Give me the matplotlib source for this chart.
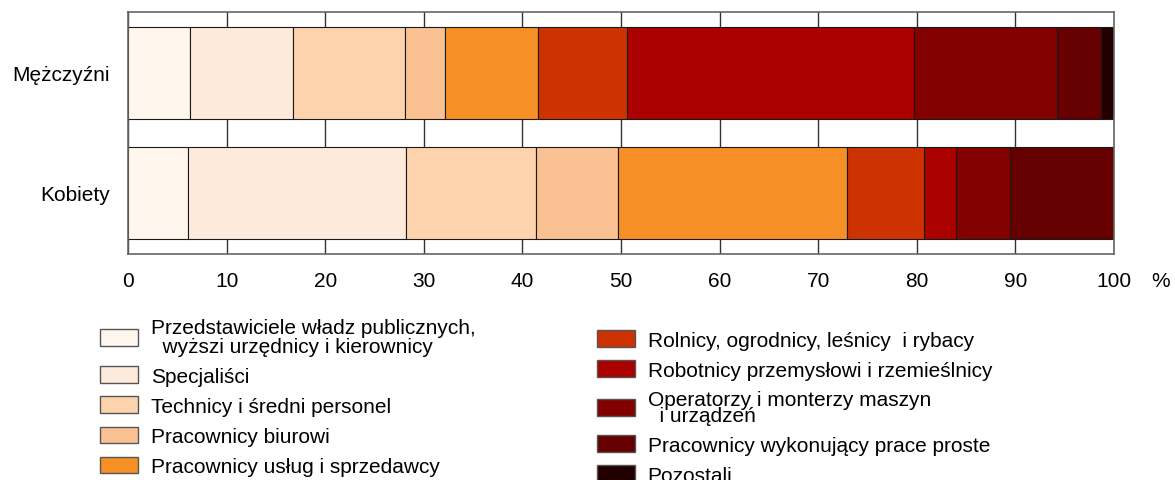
import numpy as np
import matplotlib.pyplot as plt

plt.rcParams['font.family'] = ['Liberation Sans', 'DejaVu Sans']

groups = ['Kobiety', 'Mężczyźni']
categories = [
    'Przedstawiciele władz publicznych,\n  wyższi urzędnicy i kierownicy',
    'Specjaliści',
    'Technicy i średni personel',
    'Pracownicy biurowi',
    'Pracownicy usług i sprzedawcy',
    'Rolnicy, ogrodnicy, leśnicy  i rybacy',
    'Robotnicy przemysłowi i rzemieślnicy',
    'Operatorzy i monterzy maszyn\n  i urządzeń',
    'Pracownicy wykonujący prace proste',
    'Pozostali',
]
# shares in %, order: Kobiety, Mężczyźni
kobiety = [6.1, 22.1, 13.2, 8.3, 23.25, 7.75, 3.3, 5.5, 10.5, 0.0]
mezczyzni = [6.3, 10.45, 11.3, 4.1, 9.45, 9.0, 29.1, 14.5, 4.5, 1.3]
colors = ['#FFF6EE', '#FDEADA', '#FDD3AD', '#FAC192', '#F68F26',
          '#CC3300', '#AA0000', '#820000', '#660000', '#220000']
xticks = [0, 10, 20, 30, 40, 50, 60, 70, 80, 90, 100]

fig = plt.figure(figsize=(11.75, 4.81), dpi=100)
ax = fig.add_axes([128 / 1175, 1 - 255 / 481, (1114 - 128) / 1175, 242 / 481])

data = np.array([kobiety, mezczyzni])
ypos = np.arange(len(groups))
left = np.zeros(len(groups))
handles = []
for i, cat in enumerate(categories):
    b = ax.barh(ypos, data[:, i], left=left, height=0.77, color=colors[i],
                edgecolor='#1a1a1a', linewidth=0.8, label=cat, zorder=2)
    handles.append(b)
    left += data[:, i]

ax.set_xlim(0, 100)
ax.set_ylim(-0.51, 1.507)
ax.set_xticks(xticks)
ax.set_yticks(ypos)
ax.set_yticklabels(groups)
ax.tick_params(axis='both', length=0, labelsize=15, colors='black')
ax.tick_params(axis='x', pad=12.5)
ax.tick_params(axis='y', pad=13)
ax.xaxis.grid(True, color='#333333', linewidth=1, zorder=1)
ax.set_axisbelow(True)
for s in ax.spines.values():
    s.set_color('#666666')
    s.set_linewidth(1.2)
ax.text(1.047, -0.11, '%', transform=ax.transAxes, ha='center', va='center', fontsize=15)

leg_kw = dict(frameon=False, fontsize=15, handlelength=1.83, handleheight=0.87,
              handletextpad=0.6, labelspacing=0.5, borderaxespad=0, borderpad=0)
leg1 = fig.legend(handles[:5], categories[:5], loc='upper left',
                  bbox_to_anchor=(100 / 1175, 1 - 319 / 481), **leg_kw)
leg2 = fig.legend(handles[5:], categories[5:], loc='upper left',
                  bbox_to_anchor=(597 / 1175, 1 - 331 / 481), **leg_kw)
for leg in (leg1, leg2):
    for p in leg.get_patches():
        p.set_edgecolor('#555555')
        p.set_linewidth(1)
leg1.get_texts()[0].set_linespacing(1.0)
leg2.get_texts()[2].set_linespacing(0.78)

fig.savefig('out.png', dpi=100)
